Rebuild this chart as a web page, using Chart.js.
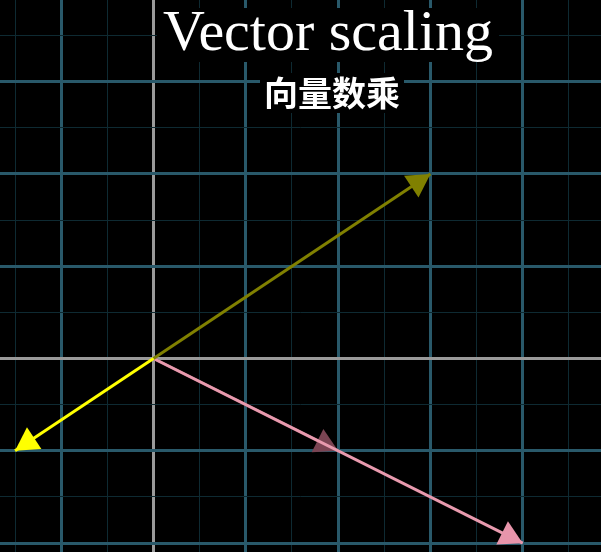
<!DOCTYPE html>
<html>
<head>
<meta charset="utf-8">
<script src="https://cdn.jsdelivr.net/npm/chart.js@4.4.1/dist/chart.umd.min.js"></script>
<style>
  html, body { margin: 0; padding: 0; background: #000; }
  #wrap { width: 601px; height: 552px; overflow: hidden; }
  canvas { background: #000; }
</style>
</head>
<body>
<div id="wrap"><canvas id="plane" width="601" height="552"></canvas></div>
<script>
// vectors: original v, scaled 2v, original w, scaled -0.5w
const vectorNames = ['v', '2v', 'w', '-0.5w'];
const vecX = [2, 4, 3, -1.5];
const vecY = [-1, -2, 2, -1];

// grid positions (every half unit)
const gridX = [-1.5, -1, -0.5, 0, 0.5, 1, 1.5, 2, 2.5, 3, 3.5, 4, 4.5];
const gridY = [-2, -1.5, -1, -0.5, 0, 0.5, 1, 1.5, 2, 2.5, 3, 3.5];

const titleText = 'Vector scaling';
const subtitleText = '向量数乘';

(function(){
    const vecColors = ['#7b4453', '#e89aae', '#808000', '#ffff00'];
    const headColors = ['#7b4453', '#e895ab', '#808000', '#ffff00'];
    const drawOrder = [4, 3, 2, 1]; // higher order is drawn first

    function gridColor(v) {
        if (Math.abs(v) < 1e-9) return '#9a9a9a';
        if (Math.abs(v - Math.round(v)) < 1e-9) return '#29596a';
        if (Math.abs(v * 2 - Math.round(v * 2)) < 1e-9) return '#0e2a32';
        return 'rgba(0,0,0,0)';
    }
    function gridWidth(v) {
        if (Math.abs(v) < 1e-9) return 3;
        if (Math.abs(v - Math.round(v)) < 1e-9) return 3;
        return 1;
    }

    const datasets = vectorNames.map((name, i) => ({
        label: name,
        data: [{ x: 0, y: 0 }, { x: vecX[i], y: vecY[i] }],
        showLine: true,
        borderColor: vecColors[i],
        borderWidth: 3,
        borderCapStyle: 'butt',
        pointRadius: 0,
        fill: false,
        order: drawOrder[i]
    }));

    // arrow heads at the tip of each vector, drawn right after its own line
    const arrowHeads = {
        id: 'arrowHeads',
        afterDatasetDraw(chart, args) {
            const pts = args.meta.data;
            if (!pts || pts.length < 2) return;
            const a = pts[0], b = pts[1];
            const ang = Math.atan2(b.y - a.y, b.x - a.x);
            const len = 23, half = 13;
            const bx = b.x - Math.cos(ang) * len, by = b.y - Math.sin(ang) * len;
            const ctx = chart.ctx;
            ctx.save();
            ctx.fillStyle = headColors[args.index];
            ctx.beginPath();
            ctx.moveTo(b.x, b.y);
            ctx.lineTo(bx - Math.sin(ang) * half, by + Math.cos(ang) * half);
            ctx.lineTo(bx + Math.sin(ang) * half, by - Math.cos(ang) * half);
            ctx.closePath();
            ctx.fill();
            ctx.restore();
        }
    };

    // title + subtitle with a black backing box like the original
    const titles = {
        id: 'titles',
        afterDraw(chart) {
            const ctx = chart.ctx;
            ctx.save();
            ctx.textAlign = 'center';

            ctx.font = '58px "Liberation Serif", "DejaVu Serif", serif';
            const tw = ctx.measureText(titleText).width;
            ctx.fillStyle = '#000';
            ctx.fillRect(328 - tw / 2 - 6, 8, tw + 12, 54);
            ctx.fillStyle = '#ffffff';
            ctx.textBaseline = 'alphabetic';
            ctx.fillText(titleText, 328, 50);

            ctx.font = 'bold 34px "Noto Sans CJK SC", sans-serif';
            const sw = ctx.measureText(subtitleText).width;
            ctx.fillStyle = '#000';
            ctx.fillRect(332 - sw / 2 - 4, 73, sw + 8, 40);
            ctx.fillStyle = '#ffffff';
            ctx.textBaseline = 'middle';
            ctx.fillText(subtitleText, 332, 93);
            ctx.restore();
        }
    };

    const axisCommon = {
        type: 'linear',
        ticks: { display: false },
        border: { display: false },
        grid: {
            drawTicks: false,
            color: (c) => gridColor(c.tick.value),
            lineWidth: (c) => gridWidth(c.tick.value)
        }
    };

    try {
        new Chart(document.getElementById('plane'), {
            type: 'scatter',
            data: { datasets },
            options: {
                responsive: false,
                animation: false,
                layout: { padding: 0 },
                plugins: { legend: { display: false }, tooltip: { enabled: false } },
                scales: {
                    x: Object.assign({}, axisCommon, {
                        min: -1.663, max: 4.848,
                        afterBuildTicks: (s) => { s.ticks = gridX.map(v => ({ value: v })); }
                    }),
                    y: Object.assign({}, axisCommon, {
                        min: -2.096, max: 3.884,
                        afterBuildTicks: (s) => { s.ticks = gridY.map(v => ({ value: v })); }
                    })
                }
            },
            plugins: [arrowHeads, titles]
        });
    } catch (err) {
        console.error('vector chart init error', err);
    }
})();
</script>
</body>
</html>
